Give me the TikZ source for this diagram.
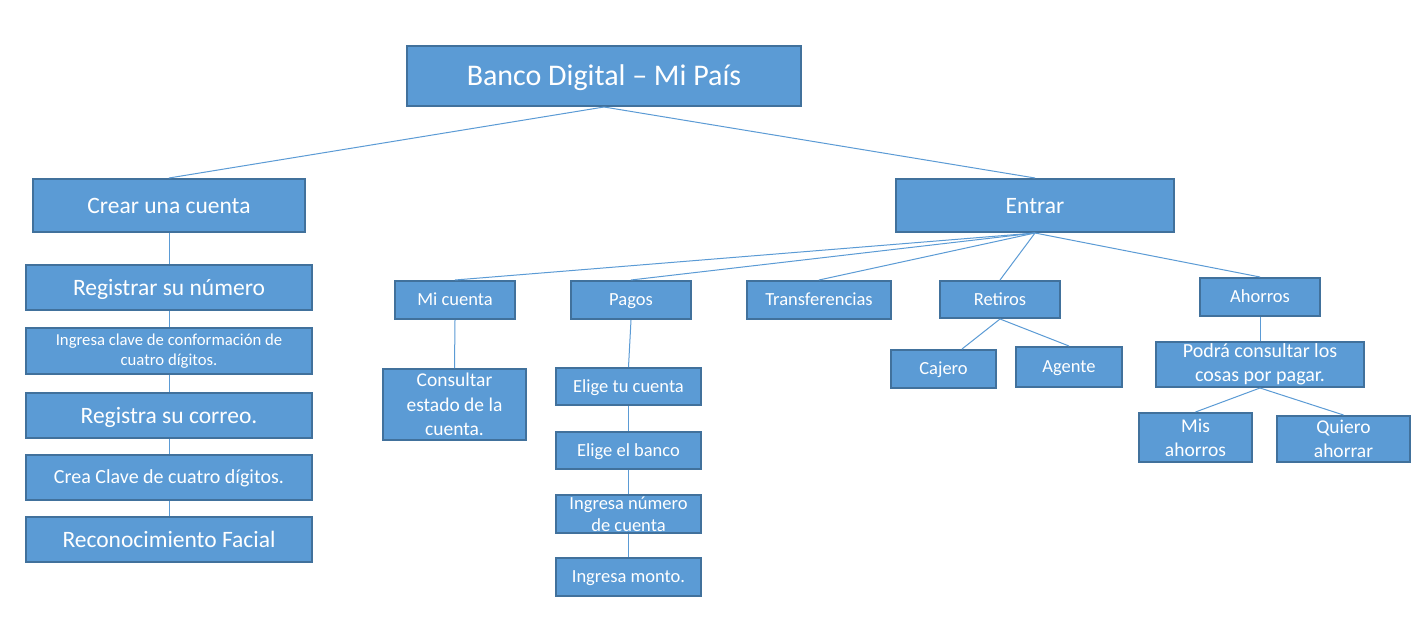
\documentclass[tikz,border=0pt]{standalone}
\usepackage{fontspec}
\setmainfont{Carlito}
\definecolor{boxfill}{HTML}{5B9BD5}
\definecolor{boxline}{HTML}{41719C}
\definecolor{conn}{HTML}{5B9BD5}
\tikzset{
  box/.style={draw=boxline, line width=2pt, fill=boxfill, text=white, inner sep=0pt, align=center},
  fs/.style n args={2}{font=\fontsize{#1}{#2}\selectfont},
  capc/.style={text height=#1, text depth=0pt},
  conline/.style={draw=conn, line width=1pt}
}
\begin{document}
\begin{tikzpicture}[x=1pt,y=-1pt]
\useasboundingbox[fill=white] (0,0) rectangle (1420,639);
% top
\node[box, fs={30}{34}, capc=19.3pt, minimum width=394, minimum height=60] (title) at (604,76) {Banco Digital -- Mi País};
\node[box, fs={23.5}{28}, capc=15.1pt, minimum width=272, minimum height=53] (crear) at (169,205.5) {Crear una cuenta};
\node[box, fs={23.5}{28}, capc=15.1pt, minimum width=278, minimum height=53] (entrar) at (1035,205.5) {Entrar};
% left column
\node[box, fs={23.5}{28}, capc=15.1pt, minimum width=286, minimum height=45] (reg) at (169,287.5) {Registrar su número};
\node[box, fs={16.7}{20}, minimum width=286, minimum height=46] (clave) at (169,351) {Ingresa clave de conformación de\\cuatro dígitos.};
\node[box, fs={23.5}{28}, capc=15.1pt, minimum width=286, minimum height=45] (correo) at (169,415.5) {Registra su correo.};
\node[box, fs={20}{24}, capc=12.9pt, minimum width=286, minimum height=45] (crea) at (169,477.5) {Crea Clave de cuatro dígitos.};
\node[box, fs={23.5}{28}, capc=15.1pt, minimum width=286, minimum height=45] (facial) at (169,539.5) {Reconocimiento Facial};
% second level under Entrar
\node[box, fs={18.5}{22}, capc=11.9pt, minimum width=120, minimum height=38] (micuenta) at (455,300) {Mi cuenta};
\node[box, fs={18.5}{22}, capc=11.9pt, minimum width=120, minimum height=38] (pagos) at (631,300) {Pagos};
\node[box, fs={18.5}{22}, capc=11.9pt, minimum width=144, minimum height=38] (transf) at (819,300) {Transferencias};
\node[box, fs={18.5}{22}, capc=11.9pt, minimum width=120, minimum height=37] (retiros) at (1000,299.5) {Retiros};
\node[box, fs={18.5}{22}, capc=11.9pt, minimum width=120, minimum height=38] (ahorros) at (1260,297) {Ahorros};
% Mi cuenta
\node[box, fs={19.5}{24.5}, minimum width=143, minimum height=71] (consultar) at (454.5,404.5) {Consultar\\estado de la\\cuenta.};
% Pagos
\node[box, fs={18.5}{22}, capc=11.9pt, minimum width=145, minimum height=37] (eligecta) at (628.5,386.5) {Elige tu cuenta};
\node[box, fs={18.5}{22}, capc=11.9pt, minimum width=145, minimum height=37] (eligebco) at (628.5,450.5) {Elige el banco};
\node[box, fs={18.5}{22}, minimum width=145, minimum height=38] (ingnum) at (628.5,514) {Ingresa número\\de cuenta};
\node[box, fs={18.5}{22}, capc=11.9pt, minimum width=145, minimum height=38] (ingmonto) at (628.5,577) {Ingresa monto.};
% Retiros
\node[box, fs={18.5}{22}, capc=11.9pt, minimum width=105, minimum height=38] (cajero) at (943.5,369) {Cajero};
\node[box, fs={18.5}{22}, capc=11.9pt, minimum width=106, minimum height=40] (agente) at (1069,367) {Agente};
% Ahorros
\node[box, fs={20}{24}, minimum width=208, minimum height=45] (podra) at (1260,364.5) {Podrá consultar los\\cosas por pagar.};
\node[box, fs={19.5}{24}, minimum width=113, minimum height=49] (misah) at (1195.5,437.5) {Mis\\ahorros};
\node[box, fs={19.5}{24}, minimum width=133, minimum height=46] (quiero) at (1343.5,439) {Quiero\\ahorrar};
\coordinate (cajtop) at (962,349);
% connectors
\path[conline] (title.south) -- (crear.north);
\path[conline] (title.south) -- (entrar.north);
\path[conline] (crear.south) -- (reg.north);
\path[conline] (reg.south) -- (clave.north);
\path[conline] (clave.south) -- (correo.north);
\path[conline] (correo.south) -- (crea.north);
\path[conline] (crea.south) -- (facial.north);
\path[conline] (entrar.south) -- (micuenta.north);
\path[conline] (entrar.south) -- (pagos.north);
\path[conline] (entrar.south) -- (transf.north);
\path[conline] (entrar.south) -- (retiros.north);
\path[conline] (entrar.south) -- (ahorros.north);
\path[conline] (micuenta.south) -- (consultar.north);
\path[conline] (pagos.south) -- (eligecta.north);
\path[conline] (eligecta.south) -- (eligebco.north);
\path[conline] (eligebco.south) -- (ingnum.north);
\path[conline] (ingnum.south) -- (ingmonto.north);
\path[conline] (retiros.south) -- (cajtop);
\path[conline] (retiros.south) -- (agente.north);
\path[conline] (ahorros.south) -- (podra.north);
\path[conline] (podra.south) -- (misah.north);
\path[conline] (podra.south) -- (quiero.north);
\end{tikzpicture}
\end{document}
